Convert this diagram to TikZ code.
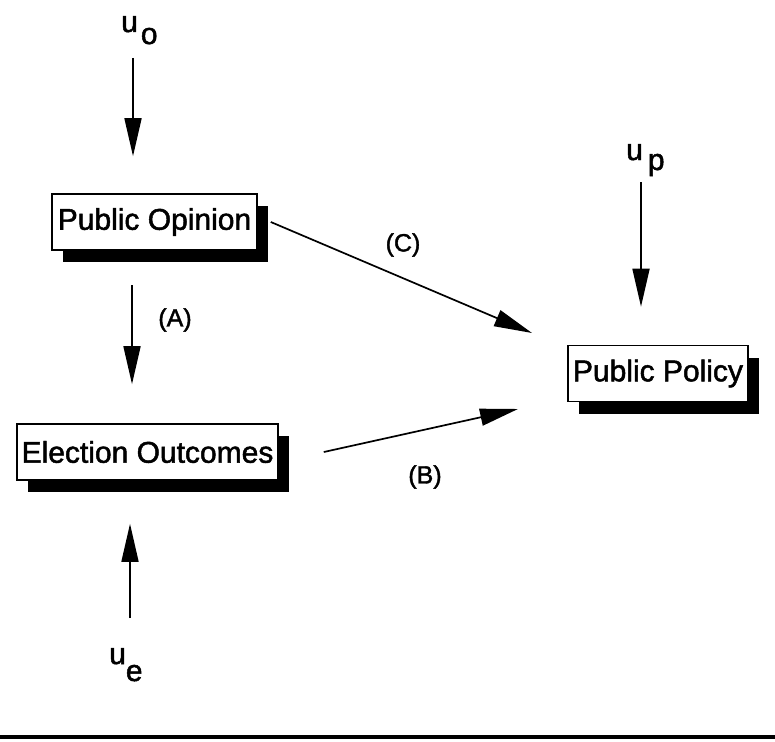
\documentclass[tikz,border=0pt]{standalone}
\usepackage{fontspec}
\setmainfont{Liberation Sans}
\newfontfamily\scanfont[FakeBold=1.6]{Liberation Sans}
\usetikzlibrary{arrows.meta,shadows}
\begin{document}
\begin{tikzpicture}[x=1pt,y=-1pt,>={Triangle[length=38pt,width=17pt]},
  box/.style={draw,line width=1.6pt,fill=white,inner sep=0pt,minimum height=56pt,
    font=\scanfont\fontsize{30}{36}\selectfont,
    drop shadow={shadow xshift=11pt,shadow yshift=-12pt,fill=black,opacity=1}},
  lbl/.style={inner sep=0pt,font=\scanfont\fontsize{25}{30}\selectfont},
  uvar/.style={inner sep=0pt,anchor=base west,font=\scanfont\fontsize{30}{36}\selectfont},
  arr/.style={->,line width=1.7pt}]
  \useasboundingbox (0,0) rectangle (775,741);
  % the three boxes
  \node[box,minimum width=205pt] (opinion) at (154.5,222) {Public Opinion};
  \node[box,minimum width=261pt] (election) at (147.5,452) {Election Outcomes};
  \node[box,minimum width=180pt] (policy) at (658,373.5) {Public Policy};
  % disturbance terms
  \node[uvar] (uo) at (121,32) {u\hspace{3pt}\raisebox{-12pt}{o}};
  \node[uvar] (up) at (626,160) {u\hspace{5pt}\raisebox{-10pt}{p}};
  \node[uvar] (ue) at (109,664) {u\hspace{0pt}\raisebox{-17pt}{e}};
  \coordinate (ao) at (133,58);
  \coordinate (aa) at (132,285);
  \coordinate (ap) at (641,182);
  \coordinate (ae) at (130,618);
  \coordinate (ct) at (532,333);
  \coordinate (bt) at (518,409);
  % arrows
  \draw[arr,shorten >=37pt] (ao) -- (ao |- opinion.north);
  \draw[arr,shorten >=39pt] (aa) -- (aa |- election.north);
  \draw[arr,shorten >=38pt] (ap) -- (ap |- policy.north);
  \draw[arr,shorten >=43pt] (ae) -- (ae |- election.south);
  \draw[arr] ([xshift=13pt]opinion.east) -- (ct);
  \draw[arr] ([xshift=45pt]election.east) -- (bt);
  \node[lbl] (la) at (175,320) {(A)};
  \node[lbl] (lc) at (403,245) {(C)};
  \node[lbl] (lb) at (425,477) {(B)};
  \draw[line width=4pt] (0,737) -- (775,737);
\end{tikzpicture}
\end{document}
